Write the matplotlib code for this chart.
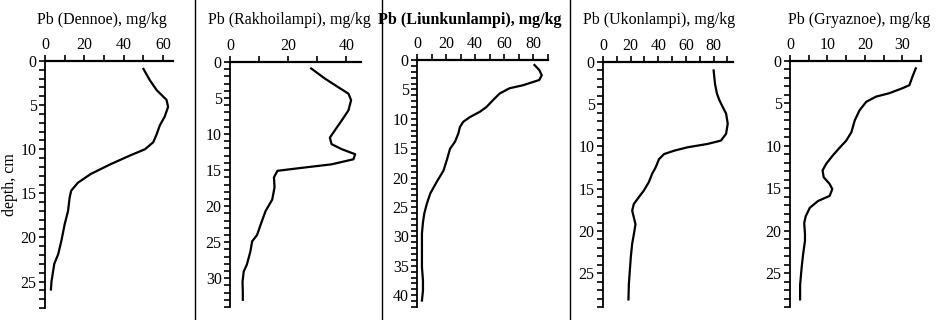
import numpy as np
import matplotlib
matplotlib.use("Agg")
import matplotlib.pyplot as plt
from matplotlib.ticker import MultipleLocator
from matplotlib.lines import Line2D

plt.rcParams['font.family'] = ['Liberation Serif', 'DejaVu Serif']
plt.rcParams['font.size'] = 11.5

# ---- data (depth in cm, Pb in mg/kg) ----
dennoe_depth = [0.9, 2.2, 3.3, 4.4, 5.2, 6.3, 7.3, 8.3, 9.2, 10.0, 10.7, 11.7, 12.8, 13.8,
                14.7, 15.5, 17.0, 18.5, 20.4, 21.9, 23.0, 25.0, 25.9]
dennoe_pb = [50, 53.3, 56.7, 61.7, 62.5, 60.8, 58.3, 56.7, 55, 50.8, 43.3, 33.3, 23.3, 16.7,
             13.3, 12.5, 11.7, 10, 8.3, 6.7, 4.7, 3.3, 3.0]

rakho_depth = [0.9, 2.3, 3.5, 4.4, 5.3, 6.7, 8.1, 9.5, 10.5, 11.4, 12.1, 12.8, 13.5, 14.2,
               14.7, 15.1, 16.0, 17.4, 19.1, 20.7, 22.6, 24.0, 24.9, 26.3, 28.1, 29.1,
               30.5, 31.9, 33.0]
rakho_pb = [27.9, 32.6, 37.2, 40.7, 41.6, 40.7, 38.4, 36.0, 34.3, 34.9, 38.4, 43.0, 42.4, 34.9,
            24.4, 16.3, 15.1, 15.3, 14.5, 12.2, 10.5, 9.3, 7.6, 7.0, 5.8, 4.7, 4.3, 4.4, 4.4]

liun_depth = [0.85, 1.7, 2.6, 3.4, 4.3, 4.8, 5.7, 6.8, 8.0, 8.8, 9.7, 10.5, 11.4, 12.5, 13.9,
              15.1, 17.0, 18.8, 20.7, 22.7, 24.4, 26.1, 27.6, 29.5, 32.4, 35.2, 37.5,
              39.2, 40.9]
liun_pb = [80.7, 84, 85.7, 84, 72.7, 63.6, 56.8, 52.3, 47.7, 43.2, 36.4, 31.8, 29.5, 28.4, 26.1,
           22.7, 20.5, 18.2, 13.6, 9.1, 6.8, 5.0, 4.1, 3.4, 3.4, 3.4, 4.1, 4.1, 3.4]

ukon_depth = [1.0, 2.6, 3.75, 4.5, 5.3, 6.1, 7.3, 8.5, 9.3, 9.7, 10.1, 10.5, 10.9, 11.5, 12.5,
              13.2, 14.2, 15.2, 16.0, 16.8, 17.6, 18.4, 19.2, 20.4, 21.5, 23.1, 24.7,
              26.3, 28.1]
ukon_pb = [80, 81, 82.4, 84.1, 86.5, 89, 90.2, 89, 85.3, 75.6, 61, 51.4, 44.1, 40.5, 38,
           35.6, 33.2, 29.6, 25.9, 22.3, 21.1, 22.3, 23.5, 22.3, 21.1, 20.1, 19.4, 18.7, 18.4]

gryaz_depth = [0.87, 1.86, 2.85, 3.2, 3.8, 4.2, 4.8, 5.8, 7.0, 8.4, 9.4, 10.2, 11.1, 12.1,
               12.9, 13.7, 14.5, 15.1, 15.9, 16.5, 17.3, 18.3, 19.1, 20.4, 21.2, 22.8,
               24.4, 26.4, 28.1]
gryaz_pb = [33.6, 32.7, 31.9, 30.1, 26.5, 23.0, 20.4, 18.6, 17.3, 16.4, 15.0, 13.3, 11.5, 9.7,
            8.7, 9.0, 10.6, 11.3, 10.6, 7.5, 5.3, 4.2, 3.8, 4.0, 4.0, 3.5, 3.1, 2.7, 2.7]

titles = ["Pb (Dennoe), mg/kg", "Pb (Rakhoilampi), mg/kg", "Pb (Liunkunlampi), mg/kg",
          "Pb (Ukonlampi), mg/kg", "Pb (Gryaznoe), mg/kg"]
series = [(dennoe_pb, dennoe_depth), (rakho_pb, rakho_depth), (liun_pb, liun_depth),
          (ukon_pb, ukon_depth), (gryaz_pb, gryaz_depth)]

W, H = 943, 320
# axes boxes in pixels: left, right, top, bottom
boxes = [(45, 173, 61, 308), (230, 361, 62, 307), (417, 548, 60, 307),
         (603, 733, 62, 307), (790, 921, 61, 307)]
xlims = [65, 45, 90, 94, 35]
ylims = [28, 34, 42, 29, 29]
xmajor = [20, 20, 20, 20, 10]
xminor = [10, 10, 10, 10, 5]
title_x = [102, 289, 470, 659, 859]
title_bold = [False, False, True, False, False]

fig = plt.figure(figsize=(W / 100, H / 100), dpi=100)

for i in range(5):
    l, r, t, b = boxes[i]
    ax = fig.add_axes([l / W, 1 - b / H, (r - l) / W, (b - t) / H])
    x, d = series[i]
    ax.plot(x, d, color='black', lw=1.6)
    ax.set_xlim(0, xlims[i])
    ax.set_ylim(ylims[i], 0)
    ax.xaxis.tick_top()
    ax.xaxis.set_major_locator(MultipleLocator(xmajor[i]))
    ax.xaxis.set_minor_locator(MultipleLocator(xminor[i]))
    ax.yaxis.set_major_locator(MultipleLocator(5))
    ax.yaxis.set_minor_locator(MultipleLocator(1))
    ax.tick_params(which='both', direction='out', length=4, width=1.2, pad=2)
    ax.tick_params(axis='x', which='both', top=True, bottom=False)
    for s in ['right', 'bottom']:
        ax.spines[s].set_visible(False)
    ax.spines['top'].set_linewidth(1.6)
    ax.spines['left'].set_linewidth(1.3)
    ax.patch.set_visible(False)
    if i == 0:
        ax.set_ylabel("depth, cm", labelpad=2)
    fig.text(title_x[i] / W, 1 - 20 / H, titles[i], ha='center', va='center',
             fontweight='bold' if title_bold[i] else 'normal')

# separators between panels
for sx in [195, 382, 570]:
    fig.add_artist(Line2D([sx / W, sx / W], [0, 1], color='black', lw=1))

fig.savefig("out.png", dpi=100)
